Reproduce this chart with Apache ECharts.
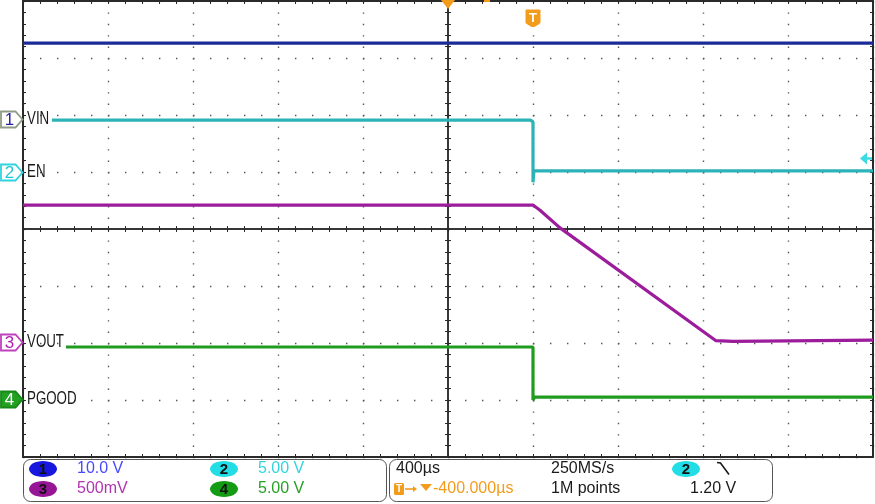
<!DOCTYPE html>
<html><head><meta charset="utf-8">
<script src="https://cdn.jsdelivr.net/npm/echarts/dist/echarts.min.js"></script>
<style>html,body{margin:0;padding:0;background:#fff}#c{width:875px;height:504px}</style>
</head><body><div id="c"></div>
<script>
// Time in µs relative to screen centre (400 µs/div); levels in divisions from screen centre
const ch1Time = [-2000, 2000];
const ch1Level = [3.26, 3.26];
const ch2Time = [-1864, 388, 400, 400, 404, 2000];
const ch2Level = [1.91, 1.91, 1.88, 0.82, 1.02, 1.02];
const ch3Time = [-2000, 400, 433, 527, 1261, 1341, 1350, 2000];
const ch3Level = [0.42, 0.42, 0.33, 0.02, -1.96, -1.97, -1.95, -1.95];
const ch4Time = [-1798, 400, 400, 408, 2000];
const ch4Level = [-2.07, -2.07, -3.0, -2.95, -2.95];
const channelNames = ['VIN', 'EN', 'VOUT', 'PGOOD'];
const channelNumbers = ['1', '2', '3', '4'];
const markerLevels = [1.93, 1.0, -1.98, -2.98];
const triggerTime = 400;
const horizPosTime = 0;
const triggerLevelDiv = 1.25;
const xRange = [-2000, 2000], xStep = 400;
const yRange = [-4, 4], yStep = 1;
const scaleTexts = ['10.0 V', '5.00 V', '500mV', '5.00 V'];
const timebaseText = '400µs';
const sampleRateText = '250MS/s';
const recordText = '1M points';
const trigDelayText = '-400.000µs';
const trigLevelText = '1.20 V';

const traceColors = ['#1c2a99', '#2bb3b8', '#9c1c9c', '#1f9c1f'];
const zip = (a, b) => a.map((v, i) => [v, b[i]]);

const chart = echarts.init(document.getElementById('c'), null, {renderer: 'canvas'});
const dark = '#2a2a2a';
function xAx(extra) {
  return Object.assign({type: 'value', min: xRange[0], max: xRange[1], interval: xStep,
    axisLabel: {show: false}, splitLine: {show: false},
    axisTick: {show: true, inside: true, length: 3, lineStyle: {color: dark}},
    minorTick: {show: true, splitNumber: 5, length: 3, lineStyle: {color: dark}}}, extra);
}
function yAx(extra) {
  return Object.assign({type: 'value', min: yRange[0], max: yRange[1], interval: yStep,
    axisLabel: {show: false}, splitLine: {show: false},
    axisTick: {show: true, inside: true, length: 3, lineStyle: {color: dark}},
    minorTick: {show: true, splitNumber: 5, length: 3, lineStyle: {color: dark}}}, extra);
}
const option = {
  animation: false,
  backgroundColor: '#fff',
  grid: {left: 23, top: 1, width: 850, height: 456, containLabel: false},
  xAxis: [
    xAx({position: 'bottom', axisLine: {show: true, onZero: true, lineStyle: {color: dark, width: 1.5}},
      splitLine: {show: true, lineStyle: {color: '#555', width: 1.4, type: [1.4, 10.0]}}}),
    xAx({position: 'bottom', axisLine: {show: true, onZero: true, lineStyle: {color: dark, width: 1.5}},
      axisTick: {show: true, inside: false, length: 3, lineStyle: {color: dark}}}),
    xAx({position: 'bottom', axisLine: {show: true, onZero: false, lineStyle: {color: dark, width: 2}}}),
    xAx({position: 'top', axisLine: {show: true, onZero: false, lineStyle: {color: dark, width: 2}}})
  ],
  yAxis: [
    yAx({position: 'left', axisLine: {show: true, onZero: true, lineStyle: {color: dark, width: 1.5}},
      splitLine: {show: true, lineStyle: {color: '#555', width: 1.4, type: [1.4, 15.6]}}}),
    yAx({position: 'left', axisLine: {show: true, onZero: true, lineStyle: {color: dark, width: 1.5}},
      axisTick: {show: true, inside: false, length: 3, lineStyle: {color: dark}}}),
    yAx({position: 'left', axisLine: {show: true, onZero: false, lineStyle: {color: dark, width: 2}}}),
    yAx({position: 'right', axisLine: {show: true, onZero: false, lineStyle: {color: dark, width: 2}}})
  ],
  series: [
    [ch1Time, ch1Level], [ch2Time, ch2Level], [ch3Time, ch3Level], [ch4Time, ch4Level]
  ].map((d, i) => ({
    type: 'line', xAxisIndex: 0, yAxisIndex: 0, data: zip(d[0], d[1]),
    showSymbol: false, symbol: 'none', clip: true, z: 5,
    lineStyle: {color: traceColors[i], width: 3.2}
  }))
};
chart.setOption(option);

const px = (t, v) => chart.convertToPixel({xAxisIndex: 0, yAxisIndex: 0}, [t, v]);
const plotLeft = px(xRange[0], 0)[0];
const plotRight = px(xRange[1], 0)[0];
const g = [];
const labelFont = '"Liberation Sans", Arial, sans-serif';

// channel markers + names
const mk = [
  {stroke: '#8e9c86', fill: '#fff', text: '#2a1fa0'},
  {stroke: '#2fd3e0', fill: '#fff', text: '#22c8d6'},
  {stroke: '#c040c0', fill: '#fff', text: '#b020b0'},
  {stroke: '#178a17', fill: '#22a022', text: '#fff'}
];
markerLevels.forEach((lv, i) => {
  const y = Math.round(px(0, lv)[1]) + 0.5;
  g.push({type: 'polygon', z: 20, shape: {points: [[1, y - 8], [15.5, y - 8], [22.5, y], [15.5, y + 8], [1, y + 8]]},
    style: {fill: mk[i].fill, stroke: mk[i].stroke, lineWidth: 1.8}});
  g.push({type: 'text', z: 21, x: 9.5, y: y + 1, style: {text: channelNumbers[i], font: '17px ' + labelFont,
    fill: mk[i].text, align: 'center', verticalAlign: 'middle'}});
  g.push({type: 'text', z: 21, x: plotLeft + 4, y: y, scaleX: 0.74, style: {text: channelNames[i], font: '18px ' + labelFont,
    fill: '#1a1a1a', align: 'left', verticalAlign: 'middle'}});
});

// horizontal position marker (orange down triangle) and trigger marker T
const orange = '#f39c1c';
const hx = Math.round(px(horizPosTime, 0)[0]);
g.push({type: 'polygon', z: 30, shape: {points: [[hx - 7, 0], [hx + 7, 0], [hx, 9]]}, style: {fill: orange}});
g.push({type: 'rect', z: 30, shape: {x: hx + 36, y: 0, width: 6, height: 2}, style: {fill: orange}});
const tx = Math.round(px(triggerTime, 0)[0]);
g.push({type: 'polygon', z: 20, shape: {points: [[tx - 7, 10], [tx + 7, 10], [tx + 7, 23], [tx + 1.5, 26.5], [tx - 1.5, 26.5], [tx - 7, 23]]},
  style: {fill: orange, stroke: orange, lineWidth: 1, lineJoin: 'round'}});
g.push({type: 'text', z: 21, x: tx, y: 18.5, style: {text: 'T', font: 'bold 13px ' + labelFont, fill: '#fff', align: 'center', verticalAlign: 'middle'}});

// trigger level arrow (right edge)
const ty = Math.round(px(0, triggerLevelDiv)[1]) + 0.5;
g.push({type: 'polygon', z: 20, shape: {points: [[plotRight - 13, ty], [plotRight - 6, ty - 6], [plotRight - 6, ty + 6]]}, style: {fill: '#3cdbe4'}});
g.push({type: 'line', z: 20, shape: {x1: plotRight - 7, y1: ty, x2: plotRight - 1, y2: ty}, style: {stroke: '#3cdbe4', lineWidth: 2.5}});

// status panel
const r1 = 469, r2 = 489;
const panelFont = '16px ' + labelFont;
g.push({type: 'rect', z: 10, shape: {x: 23.5, y: 459.5, width: 363, height: 42, r: 7}, style: {fill: '#fff', stroke: '#555', lineWidth: 1}});
g.push({type: 'rect', z: 10, shape: {x: 389.5, y: 459.5, width: 383, height: 42, r: 7}, style: {fill: '#fff', stroke: '#555', lineWidth: 1}});
const chip = (cx, cy, fill, t) => {
  g.push({type: 'ellipse', z: 11, shape: {cx: cx, cy: cy, rx: 14, ry: 8}, style: {fill: fill}});
  g.push({type: 'text', z: 12, x: cx, y: cy + 0.5, style: {text: t, font: 'bold 15px ' + labelFont, fill: '#111', align: 'center', verticalAlign: 'middle'}});
};
const txt = (x, y, t, c) => g.push({type: 'text', z: 12, x: x, y: y, style: {text: t, font: panelFont, fill: c, align: 'left', verticalAlign: 'middle'}});
chip(43, r1, '#1717dd', '1'); txt(77, r1, scaleTexts[0], '#4848ff');
chip(224, r1, '#22dde5', '2'); txt(258, r1, scaleTexts[1], '#33d4df');
chip(43, r2, '#961696', '3'); txt(77, r2, scaleTexts[2], '#b035b0');
chip(224, r2, '#139c13', '4'); txt(258, r2, scaleTexts[3], '#27a027');
txt(396, r1, timebaseText, '#1a1a1a');
txt(551, r1, sampleRateText, '#1a1a1a');
chip(686, r1, '#22dde5', '2');
g.push({type: 'polyline', z: 12, shape: {points: [[717, 462.5], [720.5, 463], [729, 474.5]]}, style: {stroke: '#1a1a1a', lineWidth: 1.6, fill: null}});
// trigger delay row
g.push({type: 'rect', z: 12, shape: {x: 394, y: 483, width: 10, height: 12, r: 1.5}, style: {fill: orange}});
g.push({type: 'text', z: 13, x: 399, y: 489.5, style: {text: 'T', font: 'bold 10px ' + labelFont, fill: '#fff', align: 'center', verticalAlign: 'middle'}});
g.push({type: 'line', z: 12, shape: {x1: 405, y1: 489, x2: 413, y2: 489}, style: {stroke: orange, lineWidth: 1.6}});
g.push({type: 'polygon', z: 12, shape: {points: [[413, 486], [417, 489], [413, 492]]}, style: {fill: orange}});
g.push({type: 'polygon', z: 12, shape: {points: [[420, 484], [432, 484], [426, 491]]}, style: {fill: orange}});
txt(433, r2, trigDelayText, orange);
txt(551, r2, recordText, '#1a1a1a');
txt(690, r2, trigLevelText, '#1a1a1a');

chart.setOption({graphic: {elements: g}});
</script>
</body></html>
